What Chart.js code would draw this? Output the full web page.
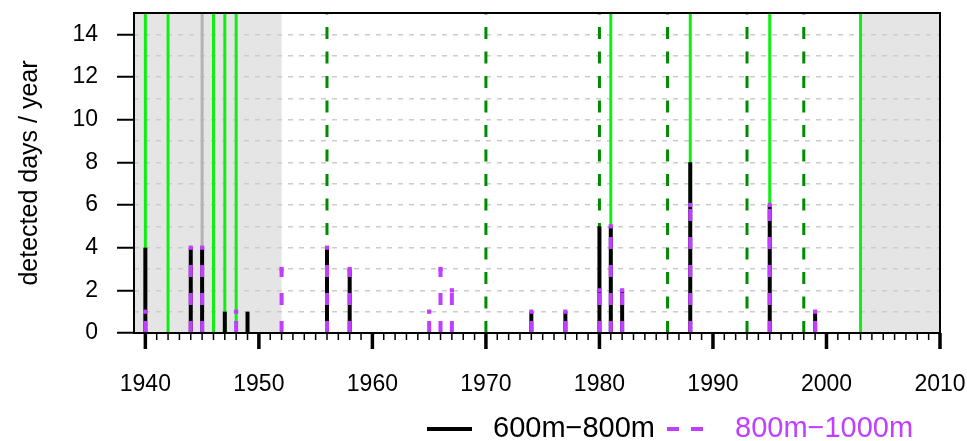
<!DOCTYPE html>
<html>
<head>
<meta charset="utf-8">
<script src="https://cdn.jsdelivr.net/npm/chart.js@4"></script>
<style>
  html, body { margin: 0; padding: 0; background: #fff; }
</style>
</head>
<body>
<canvas id="chart" width="967" height="441"></canvas>
<script>
// detected days per year, two depth classes
const years   = [1940, 1944, 1945, 1947, 1948, 1949, 1952, 1956, 1958, 1965, 1966, 1967, 1974, 1977, 1980, 1981, 1982, 1988, 1995, 1999];
const days600 = [4, 4, 4, 1, 0, 1, 0, 4, 3, 0, 0, 0, 1, 1, 5, 5, 2, 8, 6, 1];
const days800 = [1, 4, 4, 0, 1, 0, 3, 4, 3, 1, 3, 2, 1, 1, 2, 5, 2, 6, 6, 1];

// marked years (vertical lines)
const solidYears  = [1940, 1942, 1946, 1947, 1948, 1981, 1988, 1995, 2003];
const dashedYears = [1956, 1970, 1980, 1986, 1993, 1998];
const greyYears   = [1945];

// shaded periods
const shadeFrom = [1939, 2003];
const shadeTo   = [1952, 2010];

const xTicks = [1940, 1950, 1960, 1970, 1980, 1990, 2000, 2010];
const yTicks = [0, 2, 4, 6, 8, 10, 12, 14];
const seriesNames = ['600m\u2212800m', '800m\u22121000m'];

const BLACK = '#000000';
const PURPLE = '#bf3eff';
const FONT = 'Liberation Sans, Arial, Helvetica, sans-serif';

function vline(year, color, width, dash) {
  return {
    data: [{x: year, y: 0}, {x: year, y: 15}],
    borderColor: color,
    borderWidth: width,
    borderDash: dash,
    borderCapStyle: 'butt',
    pointRadius: 0,
    order: 3
  };
}

const datasets = [];
greyYears.forEach(y => datasets.push(vline(y, '#b3b3b3', 3, [])));
solidYears.forEach(y => datasets.push(vline(y, '#11ee11', 3, [])));
dashedYears.forEach(y => datasets.push(vline(y, '#008b00', 3, [12, 12.5])));

years.forEach((yr, i) => {
  if (days600[i] > 0) {
    datasets.push({
      data: [{x: yr, y: 0}, {x: yr, y: days600[i]}],
      borderColor: BLACK,
      borderWidth: 4,
      borderCapStyle: 'butt',
      pointRadius: 0,
      order: 2
    });
  }
  if (days800[i] > 0) {
    datasets.push({
      data: [{x: yr, y: 0}, {x: yr, y: days800[i]}],
      borderColor: PURPLE,
      borderWidth: 4,
      borderDash: [12, 16],
      borderCapStyle: 'butt',
      pointStyle: 'rect',
      pointRadius: ctx => ctx.dataIndex === 1 ? 3 : 0,
      pointBackgroundColor: PURPLE,
      pointBorderWidth: 0,
      order: 1
    });
  }
});

// shading, box, x tick marks and legend
const decor = {
  id: 'decor',
  beforeDraw(chart) {
    const {ctx, chartArea: a, scales: {x}} = chart;
    ctx.save();
    ctx.fillStyle = '#e5e5e5';
    shadeFrom.forEach((f, i) => {
      const x1 = Math.max(a.left, x.getPixelForValue(f));
      const x2 = Math.min(a.right, x.getPixelForValue(shadeTo[i]));
      ctx.fillRect(x1, a.top, x2 - x1, a.bottom - a.top);
    });
    ctx.restore();
  },
  afterDraw(chart) {
    const {ctx, chartArea: a, scales: {x}} = chart;
    ctx.save();
    ctx.strokeStyle = '#000';
    ctx.lineWidth = 2;
    ctx.strokeRect(a.left, a.top, a.right - a.left, a.bottom - a.top);

    for (let v = xTicks[0]; v <= xTicks[xTicks.length - 1]; v++) {
      const px = x.getPixelForValue(v);
      const major = xTicks.includes(v);
      ctx.lineWidth = major ? 3.5 : 1.5;
      ctx.beginPath();
      ctx.moveTo(px, a.bottom);
      ctx.lineTo(px, a.bottom + (major ? 16 : 7));
      ctx.stroke();
    }

    // legend
    const ly = 429;
    ctx.font = '29px ' + FONT;
    ctx.textBaseline = 'middle';
    ctx.lineWidth = 4;
    ctx.strokeStyle = BLACK;
    ctx.beginPath();
    ctx.moveTo(427, ly);
    ctx.lineTo(472, ly);
    ctx.stroke();
    ctx.fillStyle = BLACK;
    ctx.fillText(seriesNames[0], 493, ly);

    ctx.strokeStyle = PURPLE;
    ctx.setLineDash([12, 12]);
    ctx.beginPath();
    ctx.moveTo(667, ly);
    ctx.lineTo(703, ly);
    ctx.stroke();
    ctx.setLineDash([]);
    ctx.fillStyle = PURPLE;
    ctx.fillText(seriesNames[1], 735, ly);
    ctx.restore();
  }
};

new Chart(document.getElementById('chart'), {
  type: 'line',
  data: {datasets},
  options: {
    responsive: false,
    devicePixelRatio: 1,
    animation: false,
    layout: {padding: {top: 13, right: 27, left: 0, bottom: 0}},
    plugins: {legend: {display: false}, tooltip: {enabled: false}},
    scales: {
      x: {
        type: 'linear',
        min: 1939,
        max: 2010,
        ticks: {
          stepSize: 1,
          autoSkip: false,
          maxRotation: 0,
          padding: 38,
          color: '#000',
          font: {size: 23, family: FONT},
          callback: v => xTicks.includes(v) ? String(v) : ''
        },
        grid: {drawOnChartArea: false, drawTicks: false},
        border: {display: false},
        afterFit: s => { s.height = 108; s.paddingLeft = 0; s.paddingRight = 0; }
      },
      y: {
        type: 'linear',
        min: 0,
        max: 15,
        ticks: {
          stepSize: 1,
          autoSkip: false,
          padding: 19,
          color: '#000',
          font: {size: 23, family: FONT},
          callback: v => yTicks.includes(v) ? String(v) : ''
        },
        grid: {
          color: ctx => (ctx.tick && ctx.tick.value > 0 && ctx.tick.value < 15) ? '#cccccc' : 'rgba(0,0,0,0)',
          lineWidth: 1.5,
          drawTicks: true,
          tickLength: 17,
          tickWidth: 2,
          tickBorderDash: [],
          tickColor: ctx => (ctx.tick && yTicks.includes(ctx.tick.value)) ? '#000' : 'rgba(0,0,0,0)'
        },
        border: {display: false, dash: [5, 6]},
        title: {
          display: true,
          text: 'detected days / year',
          color: '#000',
          font: {size: 25, family: FONT},
          padding: {top: 15.5, bottom: 0}
        },
        afterFit: s => { s.width = 134; s.paddingTop = 0; s.paddingBottom = 0; }
      }
    }
  },
  plugins: [decor]
});
</script>
</body>
</html>
